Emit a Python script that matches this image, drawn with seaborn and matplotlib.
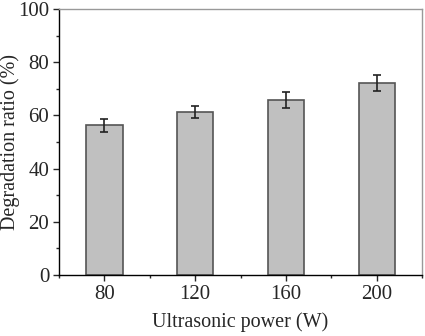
import numpy as np
import pandas as pd
import matplotlib
matplotlib.use("Agg")
import matplotlib.pyplot as plt
import seaborn as sns
from matplotlib.ticker import MultipleLocator

power = ["80", "120", "160", "200"]
ratio = [56.2, 61.3, 65.8, 72.3]
err = [2.4, 2.4, 3.1, 3.0]

sns.set_style("ticks")
plt.rcParams['font.family'] = ['Liberation Serif', 'DejaVu Serif']

df = pd.DataFrame({"power": power, "ratio": ratio})

fig, ax = plt.subplots(figsize=(4.25, 3.36), dpi=100)
sns.barplot(data=df, x="power", y="ratio", color="#c0c0c0", saturation=1,
            width=0.4, edgecolor="#555555", linewidth=1.2, errorbar=None, ax=ax)
ax.errorbar(np.arange(len(power)), ratio, yerr=err, fmt="none",
            ecolor="#222222", elinewidth=1.2, capsize=2.8, capthick=1.2)

ax.set_xlim(-0.5, 3.5)
ax.set_ylim(0, 100)
ax.yaxis.set_major_locator(MultipleLocator(20))
ax.yaxis.set_minor_locator(MultipleLocator(10))
ax.set_xticks(np.arange(-0.5, 3.6, 1), minor=True)
ax.tick_params(axis="both", which="major", direction="out", length=4, width=1,
               labelsize=15, pad=3)
ax.tick_params(axis="both", which="minor", direction="out", length=2.5, width=1)
ax.tick_params(top=False, right=False, which="both")
for side in ["left", "bottom"]:
    ax.spines[side].set_color("black")
    ax.spines[side].set_linewidth(1)
for side in ["top", "right"]:
    ax.spines[side].set_visible(True)
    ax.spines[side].set_color("#999999")
    ax.spines[side].set_linewidth(1)

ax.set_xlabel("Ultrasonic power (W)", fontsize=14.5, labelpad=6)
ax.set_ylabel("Degradation ratio (%)", fontsize=14.5)
ax.yaxis.set_label_coords(-0.108, 0.5)

fig.subplots_adjust(left=0.139, right=0.993, top=0.973, bottom=0.182)
fig.savefig("out.png", dpi=100)
